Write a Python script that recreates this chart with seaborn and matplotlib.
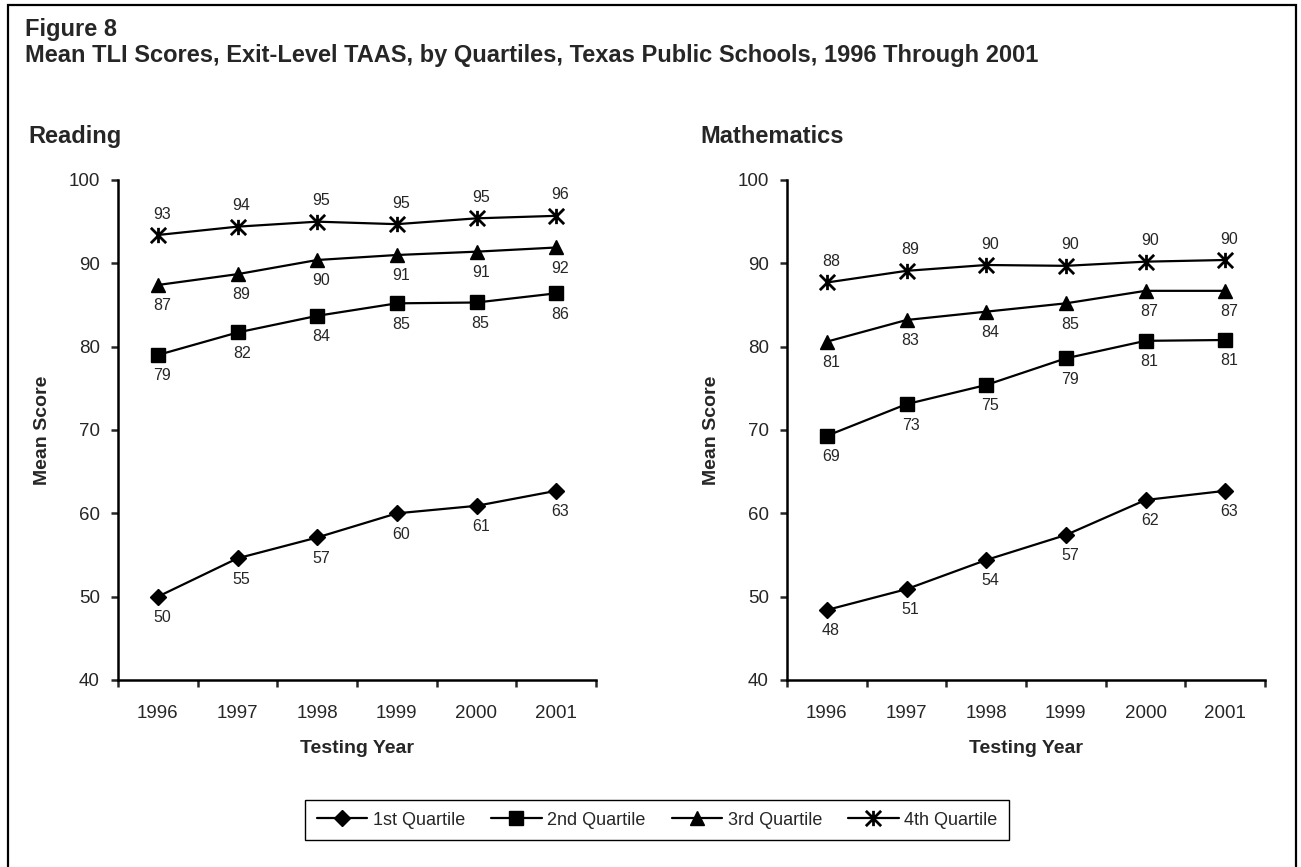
import numpy as np
import pandas as pd
import matplotlib
matplotlib.use("Agg")
import matplotlib.pyplot as plt
import seaborn as sns
from matplotlib.path import Path
from matplotlib.patches import Rectangle

# values
years = [1996, 1997, 1998, 1999, 2000, 2001]
quartiles = ["1st Quartile", "2nd Quartile", "3rd Quartile", "4th Quartile"]

reading_q1 = [50.0, 54.6, 57.1, 60.0, 60.9, 62.7]
reading_q2 = [79.0, 81.7, 83.7, 85.2, 85.3, 86.4]
reading_q3 = [87.4, 88.7, 90.4, 91.0, 91.4, 91.9]
reading_q4 = [93.4, 94.4, 95.0, 94.7, 95.4, 95.7]

math_q1 = [48.4, 50.9, 54.4, 57.4, 61.6, 62.7]
math_q2 = [69.3, 73.1, 75.4, 78.6, 80.7, 80.8]
math_q3 = [80.6, 83.2, 84.2, 85.2, 86.7, 86.7]
math_q4 = [87.7, 89.1, 89.8, 89.7, 90.2, 90.4]

subjects = ["Reading", "Mathematics"]
series = {
    "Reading": [reading_q1, reading_q2, reading_q3, reading_q4],
    "Mathematics": [math_q1, math_q2, math_q3, math_q4],
}

rows = []
for subj in subjects:
    for q, vals in zip(quartiles, series[subj]):
        for yr, v in zip(years, vals):
            rows.append({"subject": subj, "quartile": q, "year": yr, "score": v})
df = pd.DataFrame(rows)

# excel-like star: an X with a vertical bar
star = Path([(-1, -1), (1, 1), (-1, 1), (1, -1), (0, -1), (0, 1)],
            [Path.MOVETO, Path.LINETO] * 3)
markers = {"1st Quartile": "D", "2nd Quartile": "s", "3rd Quartile": "^", "4th Quartile": star}
msizes = {"1st Quartile": 8, "2nd Quartile": 10, "3rd Quartile": 10.5, "4th Quartile": 11}
label_above = {"1st Quartile": False, "2nd Quartile": False, "3rd Quartile": False, "4th Quartile": True}

sns.set_style("ticks")
plt.rcParams["font.family"] = ["Liberation Sans", "DejaVu Sans"]

fig = plt.figure(figsize=(13.01, 8.67), dpi=100)
fig.patch.set_facecolor("white")

lefts = [118 / 1301, 787 / 1301]
title_x = [28 / 1301, 700 / 1301]
axes = []
for subj, lx, tx in zip(subjects, lefts, title_x):
    ax = fig.add_axes([lx, 1 - 680 / 867, 478 / 1301, 500 / 867])
    axes.append(ax)
    sub = df[df["subject"] == subj]
    for q in quartiles:
        d = sub[sub["quartile"] == q]
        sns.lineplot(data=d, x="year", y="score", ax=ax, color="black", lw=1.6,
                     marker=markers[q], markersize=msizes[q], mec="black",
                     mfc="black", mew=2 if q == "4th Quartile" else 1,
                     errorbar=None, label=q)
        off = 15 if label_above[q] else -15
        for yr, v in zip(d["year"], d["score"]):
            ax.annotate(f"{v:.0f}", (yr, v), xytext=(3, off), textcoords="offset points",
                        ha="center", va="center", fontsize=11.5)
    if ax.get_legend() is not None:
        ax.get_legend().remove()

    ax.set_xlim(1995.5, 2001.5)
    ax.set_ylim(40, 100)
    ax.set_xticks(np.arange(1995.5, 2002, 1))
    ax.set_xticklabels([])
    ax.set_xticks(years, minor=True)
    ax.set_xticklabels([str(y) for y in years], minor=True)
    ax.tick_params(axis="x", which="major", length=5, width=1.8, direction="out")
    ax.tick_params(axis="x", which="minor", length=0, pad=18, labelsize=13.5)
    ax.set_yticks(range(40, 101, 10))
    ax.tick_params(axis="y", length=5, width=1.8, pad=8, labelsize=13.5)
    sns.despine(ax=ax)
    for s in ["left", "bottom"]:
        ax.spines[s].set_linewidth(1.8)
        ax.spines[s].set_color("black")
    ax.set_ylabel("Mean Score", fontsize=14, fontweight="bold")
    ax.yaxis.set_label_coords(-0.14, 0.5)
    ax.set_xlabel("Testing Year", fontsize=14, fontweight="bold")
    ax.xaxis.set_label_coords(0.5, -0.12)
    ax.set_facecolor("white")

    fig.text(tx, 1 - 143 / 867, subj, fontsize=17, fontweight="bold", va="baseline")

fig.text(25 / 1301, 1 - 36 / 867, "Figure 8", fontsize=17, fontweight="bold", va="baseline")
fig.text(25 / 1301, 1 - 62 / 867,
         "Mean TLI Scores, Exit-Level TAAS, by Quartiles, Texas Public Schools, 1996 Through 2001",
         fontsize=17, fontweight="bold", va="baseline")

handles, labels = axes[0].get_legend_handles_labels()
leg = fig.legend(handles, labels, loc="center", bbox_to_anchor=(0.505, 0.054), ncol=4,
                 fontsize=13, handlelength=2.8, handletextpad=0.3, columnspacing=1.45,
                 borderpad=0.65, fancybox=False, framealpha=1, edgecolor="black")
leg.get_frame().set_linewidth(1)

fig.add_artist(Rectangle((8 / 1301, -0.02), (1296 - 8) / 1301, 1 - 5 / 867 + 0.02,
                         transform=fig.transFigure, fill=False, lw=1.6, ec="black"))

fig.savefig("out.png", dpi=100)
